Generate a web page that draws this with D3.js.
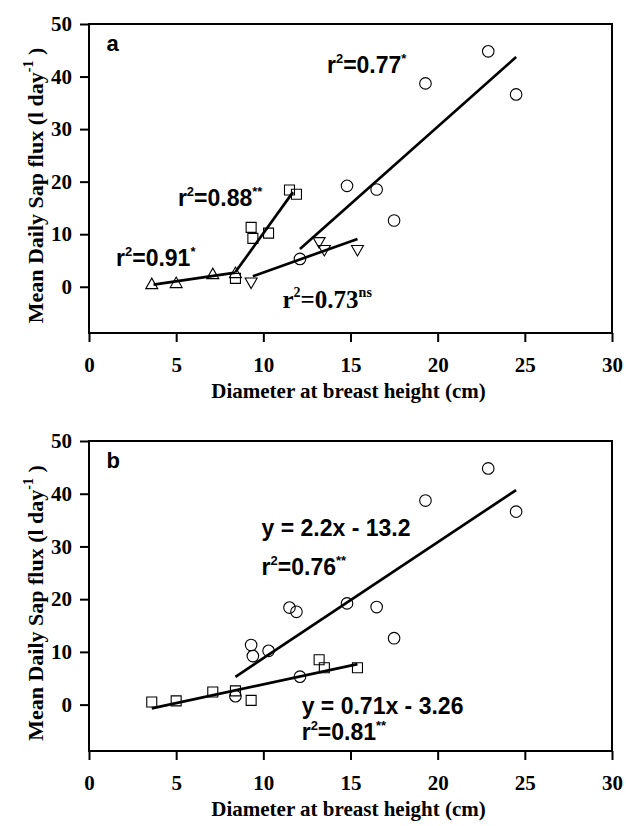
<!DOCTYPE html>
<html>
<head>
<meta charset="utf-8">
<script src="https://cdn.jsdelivr.net/npm/d3@7/dist/d3.min.js"></script>
<style>
  body { margin: 0; background: #fff; }
</style>
</head>
<body>
<div id="chart"></div>
<script>
// axis ticks
var xTicks = [0, 5, 10, 15, 20, 25, 30];
var yTicks = [0, 10, 20, 30, 40, 50];

// panel a : four groups of trees
var triX  = [3.6, 5.0, 7.1, 8.4];
var triY  = [0.5, 0.7, 2.4, 2.6];
var sqX   = [8.4, 9.3, 9.4, 10.3, 11.5, 11.9];
var sqY   = [1.6, 11.3, 9.2, 10.2, 18.4, 17.6];
var circX = [12.1, 14.8, 16.5, 17.5, 19.3, 22.9, 24.5];
var circY = [5.3, 19.2, 18.5, 12.6, 38.7, 44.8, 36.6];
var invX  = [9.3, 13.2, 13.5, 15.4];
var invY  = [0.8, 8.5, 7.0, 7.0];
// regression segments in a, [x0, y0, x1, y1]
var fitsA = [[3.7, 0.4, 8.4, 2.7], [8.4, 2.8, 11.7, 18.0],
             [12.1, 7.2, 24.5, 43.7], [9.4, 2.0, 15.4, 9.1]];

// panel b : pooled groups (squares+circles of a, triangles of a)
var bCircX = sqX.concat(circX);
var bCircY = sqY.concat(circY);
var bSqX   = triX.concat(invX);
var bSqY   = triY.concat(invY);
var fitSlopeB     = [2.2, 0.71];
var fitInterceptB = [-13.2, -3.26];
var fitRangeB     = [[8.4, 24.5], [3.6, 15.4]];

var width = 626, height = 826;
var left = 89, right = 612;
var sans = "'Liberation Sans', Arial, sans-serif";
var serif = "'Liberation Serif', 'Times New Roman', serif";

var svg = d3.select("#chart")
  .append("svg")
  .attr("width", width)
  .attr("height", height);

function shape(kind) {
  if (kind == "circle") return d3.symbol(d3.symbolCircle, 105)();
  if (kind == "square") return d3.symbol(d3.symbolSquare, 100)();
  if (kind == "tri") return "M0,-6L6,4.5L-6,4.5Z";
  return "M0,6L6,-4.5L-6,-4.5Z";
}

// text with superscripts, parts = [[text, isSup], ...]
function note(g, x, y, parts, font, size) {
  size = size || 23;
  var t = g.append("text")
    .attr("x", x).attr("y", y)
    .style("font-family", font)
    .style("font-weight", "bold")
    .style("font-size", size + "px");
  var up = false, lift = Math.round(size * 0.45), small = Math.round(size * 0.55) + "px";
  parts.forEach(function(p) {
    var s = t.append("tspan").text(p[0]);
    if (p[1] && !up) { s.attr("dy", -lift).style("font-size", small); up = true; }
    else if (p[1]) { s.style("font-size", small); }
    else if (up) { s.attr("dy", lift); up = false; }
  });
  return t;
}

function drawPanel(top, bottom, letter, groups, fits, notes) {
  var x = d3.scaleLinear().domain([0, 30]).range([left, right]);
  var y = d3.scaleLinear().domain([-8.8, 50]).range([bottom, top]);
  var g = svg.append("g");

  // frame
  g.append("rect")
    .attr("x", left).attr("y", top)
    .attr("width", right - left).attr("height", bottom - top)
    .attr("fill", "none").attr("stroke", "#000").attr("stroke-width", 2);

  // axes
  var xa = g.append("g")
    .attr("transform", "translate(0," + bottom + ")")
    .call(d3.axisBottom(x).tickValues(xTicks).tickSize(9).tickPadding(15));
  var ya = g.append("g")
    .attr("transform", "translate(" + left + ",0)")
    .call(d3.axisLeft(y).tickValues(yTicks).tickSize(9).tickPadding(8));
  [xa, ya].forEach(function(a) {
    a.select(".domain").remove();
    a.selectAll("line").attr("stroke-width", 2);
    a.selectAll("text")
      .style("font-family", serif)
      .style("font-weight", "bold")
      .style("font-size", "21px")
      .attr("fill", "#000");
  });

  // axis titles
  g.append("text")
    .attr("x", (left + right) / 2 - 2)
    .attr("y", bottom + 65)
    .attr("text-anchor", "middle")
    .style("font-family", serif).style("font-weight", "bold").style("font-size", "21px")
    .text("Diameter at breast height (cm)");
  var yt = g.append("text")
    .attr("transform", "translate(43," + ((top + bottom) / 2 + 7) + ") rotate(-90)")
    .attr("text-anchor", "middle")
    .style("font-family", serif).style("font-weight", "bold").style("font-size", "22px");
  yt.append("tspan").text("Mean Daily Sap flux (l day");
  yt.append("tspan").text("-1").attr("dy", -10).style("font-size", "14px");
  yt.append("tspan").text(" )").attr("dy", 10);

  // panel letter
  note(g, x(1.0), y(44.9), [[letter]], sans, 22);

  // fitted lines
  g.selectAll(".fit")
    .data(fits)
    .enter()
    .append("line")
      .attr("x1", function(d){ return x(d[0]); })
      .attr("y1", function(d){ return y(d[1]); })
      .attr("x2", function(d){ return x(d[2]); })
      .attr("y2", function(d){ return y(d[3]); })
      .attr("stroke", "#000")
      .attr("stroke-width", 2.7);

  // points
  groups.forEach(function(grp) {
    g.selectAll(null)
      .data(d3.range(grp.xs.length))
      .enter()
      .append("path")
        .attr("d", shape(grp.kind))
        .attr("transform", function(i){ return "translate(" + x(grp.xs[i]) + "," + y(grp.ys[i]) + ")"; })
        .attr("fill", "none")
        .attr("stroke", "#000")
        .attr("stroke-width", 1.1);
  });

  notes.forEach(function(n) {
    note(g, x(n.x), y(n.y), n.parts, n.font || sans, n.size);
  });
}

drawPanel(24, 333, "a",
  [{xs: triX, ys: triY, kind: "tri"},
   {xs: sqX, ys: sqY, kind: "square"},
   {xs: circX, ys: circY, kind: "circle"},
   {xs: invX, ys: invY, kind: "inv"}],
  fitsA,
  [{x: 13.65, y: 40.6, parts: [["r"], ["2", 1], ["=0.77"], ["*", 1]]},
   {x: 5.1, y: 15.4, parts: [["r"], ["2", 1], ["=0.88"], ["**", 1]]},
   {x: 1.55, y: 4.0, parts: [["r"], ["2", 1], ["=0.91"], ["*", 1]]},
   {x: 11.1, y: -4.0, parts: [["r"], ["2", 1], ["=0.73"], ["ns", 1]], font: serif, size: 25}]);

var fitsB = fitSlopeB.map(function(m, i) {
  var r = fitRangeB[i];
  return [r[0], m * r[0] + fitInterceptB[i], r[1], m * r[1] + fitInterceptB[i]];
});

drawPanel(441, 751, "b",
  [{xs: bCircX, ys: bCircY, kind: "circle"},
   {xs: bSqX, ys: bSqY, kind: "square"}],
  fitsB,
  [{x: 9.9, y: 32.0, parts: [["y = 2.2x - 13.2"]]},
   {x: 9.9, y: 24.5, parts: [["r"], ["2", 1], ["=0.76"], ["**", 1]]},
   {x: 12.2, y: -1.7, parts: [["y = 0.71x - 3.26"]]},
   {x: 12.2, y: -6.8, parts: [["r"], ["2", 1], ["=0.81"], ["**", 1]]}]);
</script>
</body>
</html>
